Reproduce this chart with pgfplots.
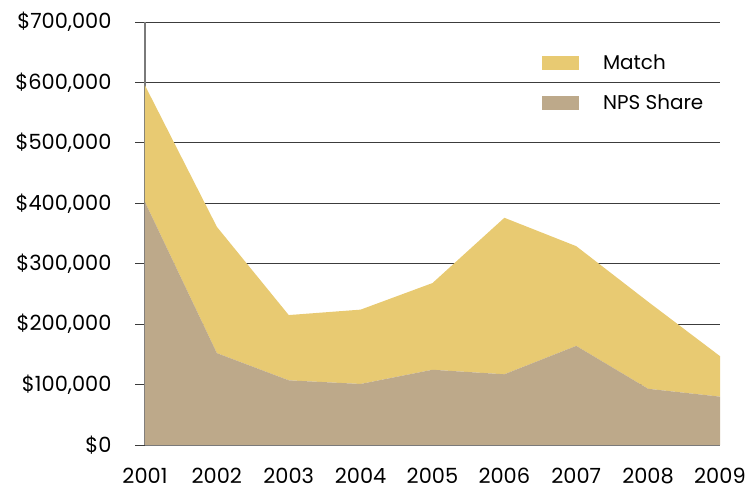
\documentclass[border=0pt]{standalone}
\usepackage{pgfplots}
\pgfplotsset{compat=1.18}
\usepackage{fontspec}
\setmainfont{Poppins}
\definecolor{matchc}{HTML}{E8CA72}
\definecolor{npsc}{HTML}{BDA98A}
\definecolor{gridc}{HTML}{3C3C3C}
\definecolor{axc}{HTML}{7A7A7A}
\begin{document}
\begin{tikzpicture}
\begin{axis}[
  name=ax,
  scale only axis,
  width=575bp, height=423bp,
  xmin=2001, xmax=2009, ymin=0, ymax=700000,
  stack plots=y,
  scaled y ticks=false,
  axis x line*=bottom, axis y line*=left,
  axis line style={axc, line width=1.3bp},
  xtick={2001,...,2009},
  xticklabels={2001,2002,2003,2004,2005,2006,2007,2008,2009},
  ytick={0,100000,...,700000},
  yticklabels={{\$0},{\$100,000},{\$200,000},{\$300,000},{\$400,000},{\$500,000},{\$600,000},{\$700,000}},
  x tick style={draw=none},
  y tick style={gridc, line width=0.9bp},
  tick align=outside,
  major tick length=10bp,
  ymajorgrids,
  major grid style={gridc, line width=0.9bp},
  tick label style={font=\fontsize{21}{24}\selectfont, text=black},
  yticklabel style={xshift=-20bp},
  xticklabel style={inner sep=0pt, yshift=-13bp},
  reverse legend,
  legend style={draw=none, fill=none, at={(0.685,0.932)}, anchor=north west,
    font=\fontsize{20}{23}\selectfont, row sep=20bp,
    /tikz/every odd column/.append style={column sep=22bp}},
  legend cell align=left,
  legend image code/.code={\fill[#1] (0bp,-7bp) rectangle (37bp,7bp);},
]
\addplot[fill=npsc, draw=none] coordinates {
 (2001,402000) (2002,152000) (2003,107000) (2004,101000) (2005,124500)
 (2006,117000) (2007,164000) (2008,93000) (2009,80000)} \closedcycle;
\addlegendentry{NPS Share}
\addplot[fill=matchc, draw=none] coordinates {
 (2001,193000) (2002,209000) (2003,108000) (2004,123000) (2005,143500)
 (2006,259000) (2007,165000) (2008,144000) (2009,67000)} \closedcycle;
\addlegendentry{Match}
\end{axis}
\pgfresetboundingbox
\path ([shift={(-145bp,-40bp)}]ax.south west) rectangle ([shift={(30bp,22bp)}]ax.north east);
\end{tikzpicture}
\end{document}
